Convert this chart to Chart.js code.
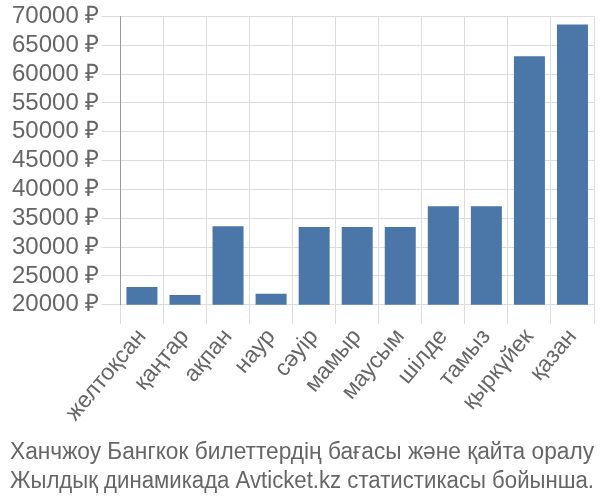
<!DOCTYPE html>
<html>
<head>
<meta charset="utf-8">
<script src="https://cdn.jsdelivr.net/npm/chart.js@4"></script>
<style>
  html, body { margin: 0; padding: 0; background: #fff; }
  #wrap { width: 600px; height: 500px; }
</style>
</head>
<body>
<div id="wrap"><canvas id="barChart"></canvas></div>
<script>
// months (kazakh) and average ticket prices
const months = ['желтоқсан', 'қаңтар', 'ақпан', 'наур', 'сәуір', 'мамыр', 'маусым', 'шілде', 'тамыз', 'қыркүйек', 'қазан'];
const prices = [23100, 21700, 33600, 21900, 33500, 33500, 33500, 37100, 37100, 63100, 68600];
const titleLines = ['Ханчжоу Бангкок билеттердің бағасы және қайта оралу', 'Жылдық динамикада Avticket.kz статистикасы бойынша.'];

Chart.defaults.color = '#666666';
Chart.defaults.font.family = 'Liberation Sans';
Chart.defaults.font.size = 23;

const bar = document.getElementById('barChart');

new Chart(bar, {
    type: 'bar',
    data: {
        labels: months,
        datasets: [{
            data: prices,
            backgroundColor: '#4a77a8',
            borderWidth: 0
        }]
    },
    options: {
        responsive: true,
        maintainAspectRatio: false,
        animation: false,
        layout: {
            padding: { left: 10, right: 6, top: 2, bottom: 0 }
        },
        scales: {
            x: {
                grid: {
                    color: '#dddddd',
                    tickLength: 19
                },
                border: { color: '#dddddd' },
                ticks: {
                    minRotation: 50,
                    maxRotation: 50,
                    padding: 0
                }
            },
            y: {
                min: 20000,
                max: 70000,
                grid: {
                    color: '#dddddd',
                    tickLength: 19
                },
                border: { color: '#999999' },
                ticks: {
                    stepSize: 5000,
                    autoSkip: false,
                    padding: 2,
                    font: { size: 24 },
                    callback: (v) => v + ' ₽'
                }
            }
        },
        plugins: {
            legend: { display: false },
            tooltip: { enabled: false },
            title: {
                display: true,
                position: 'bottom',
                text: titleLines,
                color: '#666666',
                font: { size: 23, weight: 'normal', lineHeight: 1.25 },
                padding: { top: 12, bottom: 4 }
            }
        }
    }
});
</script>
</body>
</html>
